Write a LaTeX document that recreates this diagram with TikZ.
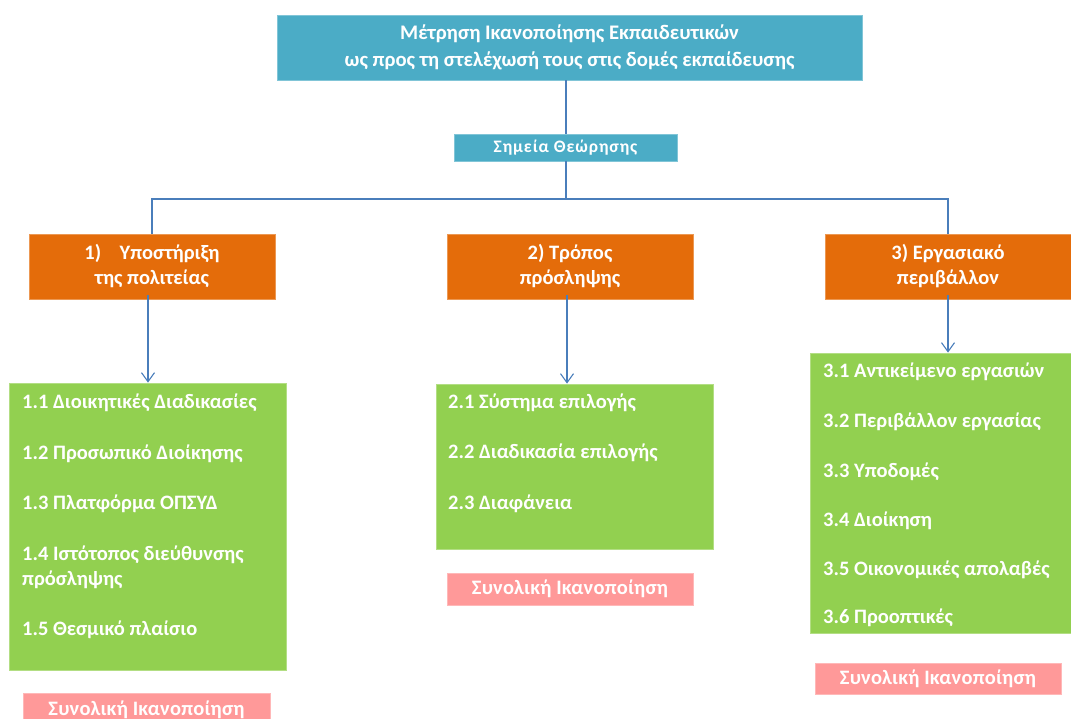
\documentclass[tikz,border=0pt]{standalone}
\usepackage{fontspec}
\setmainfont{Carlito}
\usetikzlibrary{arrows.meta}
\definecolor{teal1}{HTML}{4BACC6}
\definecolor{orange1}{HTML}{E46C0A}
\definecolor{green1}{HTML}{92D050}
\definecolor{pink1}{HTML}{FF9999}
\definecolor{line1}{HTML}{4A7EBB}
\tikzset{
  box/.style={rectangle, inner sep=0pt, text=white, font=\bfseries, align=center},
  tealbox/.style={box, fill=teal1, draw=teal1!70!white, line width=0.8pt},
  orangebox/.style={box, fill=orange1, draw=orange1!70!white, line width=0.8pt, font=\fontsize{20.5}{25}\selectfont\bfseries},
  greenbox/.style={box, fill=green1, draw=green1!70!white, line width=0.8pt},
  pinkbox/.style={box, fill=pink1, draw=pink1!70!white, line width=0.8pt, font=\fontsize{20.5}{22}\selectfont\bfseries\addfontfeature{LetterSpace=1}},
  item/.style={anchor=west, inner sep=0pt, text=white, align=left, font=\fontsize{20.5}{25}\selectfont\bfseries},
  conn/.style={draw=line1, line width=1.1pt},
  arr/.style={conn, -{Straight Barb[length=9pt,width=13pt]}}
}
\begin{document}
\begin{tikzpicture}[x=1pt,y=-1pt]
\useasboundingbox (0,0) rectangle (1071,719);
\clip (0,0) rectangle (1071,719);
% title
\node[tealbox, minimum width=585pt, minimum height=65pt, font=\fontsize{20.7}{27}\selectfont\bfseries] (title) at (569.5,47.5)
  {Μέτρηση Ικανοποίησης Εκπαιδευτικών\\ως προς τη στελέχωσή τους στις δομές εκπαίδευσης};
\node[tealbox, minimum width=223pt, minimum height=27pt, font=\fontsize{17.5}{18}\selectfont\bfseries\addfontfeature{LetterSpace=5}] (sim) at (565.5,147.5) {Σημεία Θεώρησης};
% orange
\node[orangebox, minimum width=246pt, minimum height=65pt] (o1) at (152,266.5) {1)\hspace{0.9em}Υποστήριξη\\της πολιτείας};
\node[orangebox, minimum width=246pt, minimum height=65pt] (o2) at (570,266.5) {2) Τρόπος\\πρόσληψης};
\node[orangebox, minimum width=246pt, minimum height=65pt] (o3) at (948,266.5) {3) Εργασιακό\\περιβάλλον};
% green
\node[greenbox, minimum width=277pt, minimum height=287pt] (g1) at (147.5,526.5) {};
\node[greenbox, minimum width=277pt, minimum height=165pt] (g2) at (574.5,466.5) {};
\node[greenbox, minimum width=262pt, minimum height=280pt] (g3) at (941,493) {};
% items
\node[item] (i11) at (22,403) {1.1 Διοικητικές Διαδικασίες};
\node[item] (i12) at (22,454) {1.2 Προσωπικό Διοίκησης};
\node[item] (i13) at (22,504) {1.3 Πλατφόρμα ΟΠΣΥΔ};
\node[item] (i14) at (22,567) {1.4 Ιστότοπος διεύθυνσης\\πρόσληψης};
\node[item] (i15) at (22,630) {1.5 Θεσμικό πλαίσιο};
\node[item] (i21) at (448,403) {2.1 Σύστημα επιλογής};
\node[item] (i22) at (448,453) {2.2 Διαδικασία επιλογής};
\node[item] (i23) at (448,504) {2.3 Διαφάνεια};
\node[item] (i31) at (823,372) {3.1 Αντικείμενο εργασιών};
\node[item] (i32) at (823,422) {3.2 Περιβάλλον εργασίας};
\node[item] (i33) at (823,472) {3.3 Υποδομές};
\node[item] (i34) at (823,521) {3.4 Διοίκηση};
\node[item] (i35) at (823,570) {3.5 Οικονομικές απολαβές};
\node[item] (i36) at (823,618) {3.6 Προοπτικές};
% pink
\node[pinkbox, minimum width=247pt, minimum height=33pt] (p1) at (146.5,709.5) {Συνολική Ικανοποίηση};
\node[pinkbox, minimum width=246pt, minimum height=32pt] (p2) at (570,589) {Συνολική Ικανοποίηση};
\node[pinkbox, minimum width=246pt, minimum height=31pt] (p3) at (938,678.5) {Συνολική Ικανοποίηση};
% connectors
\coordinate (bar) at (566,199);
\draw[conn] ([xshift=-3.5pt]title.south) -- ([xshift=0.5pt]sim.north);
\draw[conn] ([xshift=0.5pt]sim.south) -- (bar);
\draw[conn] (o1.north) |- (bar) -| (o3.north);
\draw[arr] ([xshift=-4pt,yshift=4pt]o1.south) -- ([xshift=-4pt]o1.south |- g1.north);
\draw[arr] ([xshift=-3pt,yshift=4pt]o2.south) -- ([xshift=-3pt]o2.south |- g2.north);
\draw[arr] ([yshift=4pt]o3.south) -- (o3.south |- g3.north);
\end{tikzpicture}
\end{document}
